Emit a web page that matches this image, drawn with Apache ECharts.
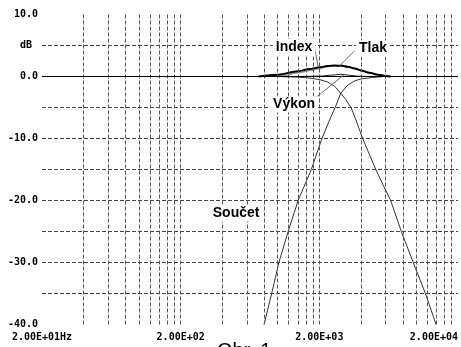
<!DOCTYPE html>
<html><head><meta charset="utf-8">
<script src="https://cdn.jsdelivr.net/npm/echarts@6/dist/echarts.min.js"></script>
<style>html,body{margin:0;padding:0;background:#fff}#c{width:461px;height:347px}</style>
</head><body><div id="c"></div>
<script>
// ---- data ----
const xTickValues = [20, 200, 2000, 20000];
const xTickLabels = ['2.00E+01Hz', '2.00E+02', '2.00E+03', '2.00E+04'];
const gridFreqs = [40,60,80,100,120,140,160,180,200,400,600,800,1000,1200,1400,1600,1800,2000,4000,6000,8000,10000,12000,14000,16000,18000];

const lpFreq = [20, 1000, 1400, 1700, 2010, 2300, 2584, 2856, 3100, 3384, 3700, 4104, 4600, 5110, 5800, 6540, 7806, 9512, 11648, 13896];
const lpDb   = [0, 0, -0.1, -0.25, -0.5, -0.9, -1.6, -2.7, -3.7, -5, -7.2, -10, -12.6, -15, -17.6, -20, -25, -30, -35, -40];

const hpFreq = [799, 906, 1022, 1192, 1406, 1750, 2088, 2350, 2600, 2856, 3200, 3600, 4000, 4800, 5900, 20000];
const hpDb   = [-40, -35, -30, -25, -20, -15, -10, -7.2, -5, -2.7, -1.4, -0.7, -0.4, -0.15, 0, 0];

const tlakFreq = [727, 1010, 1406, 1700, 2010, 2300, 2570, 2900, 3200, 3600, 3990, 4600, 5300, 6000, 6540];
const tlakDb   = [0, 0.3, 0.86, 1.2, 1.5, 1.68, 1.77, 1.72, 1.56, 1.3, 0.97, 0.6, 0.3, 0.1, 0];

const indexFreq = [800, 1100, 1406, 1700, 2010, 2300, 2570, 2900, 3200, 3600, 3990, 4600, 5300, 6000, 6540];
const indexDb   = [0, 0.15, 0.6, 0.95, 1.3, 1.6, 1.75, 1.72, 1.56, 1.3, 0.97, 0.6, 0.3, 0.1, 0];

const vykonFreq = [1500, 2000, 2400, 2856, 3300, 3800, 4500];
const vykonDb   = [0, 0.05, 0.2, 0.35, 0.2, 0.05, 0];

const pair = (xs, ys) => xs.map((x, i) => [x, ys[i]]);

const mono = '"DejaVu Sans Mono", "Liberation Mono", monospace';
const sans = '"Liberation Sans", Arial, sans-serif';
const annLabel = (txt) => ({
  show: true, formatter: txt, color: '#000', fontFamily: sans, fontWeight: 'bold', fontSize: 14,
  backgroundColor: '#fff', padding: [1, 3], position: 'inside'
});
const curve = { type: 'line', showSymbol: false, smooth: 0.35, smoothMonotone: 'x', z: 3 };
const straight = { type: 'line', showSymbol: false, smooth: false, z: 3 };

const option = {
  animation: false,
  backgroundColor: '#fff',
  title: {
    text: 'Obr. 1', left: 212, top: 336,
    textStyle: { fontFamily: sans, fontSize: 20, fontWeight: 'normal', color: '#000' }
  },
  grid: { left: 42, right: 0, top: 14.5, bottom: 22.5 },
  xAxis: {
    type: 'log', logBase: 10, min: 20, max: 20000,
    axisLine: { show: false }, axisTick: { show: false }, splitLine: { show: false },
    minorTick: { show: false }, minorSplitLine: { show: false },
    axisLabel: {
      customValues: xTickValues,
      margin: 8,
      alignMinLabel: 'center', alignMaxLabel: 'right',
      fontFamily: mono, fontSize: 10, fontWeight: 'bold', color: '#000',
      formatter: (v) => {
        const i = xTickValues.findIndex(t => Math.abs(t - v) / t < 1e-6);
        return i >= 0 ? xTickLabels[i] : '';
      }
    }
  },
  yAxis: {
    type: 'value', min: -40, max: 10, interval: 5,
    axisLine: { show: false }, axisTick: { show: false },
    splitLine: { show: true, showMinLine: false, showMaxLine: false,
      lineStyle: { color: '#444', type: [4, 2], width: 1 } },
    axisLabel: {
      margin: 4, fontFamily: mono, fontSize: 10, fontWeight: 'bold', color: '#000',
      formatter: (v) => v === 5 ? '{u|dB}' : (v % 10 === 0 ? v.toFixed(1) : ''),
      rich: { u: { fontFamily: mono, fontSize: 10, fontWeight: 'bold', color: '#000', padding: [0, 6, 0, 0] } }
    }
  },
  series: [
    {
      name: 'grid', type: 'line', data: [], silent: true,
      markLine: {
        silent: true, symbol: ['none', 'none'], label: { show: false },
        lineStyle: { color: '#555', type: [4, 2], width: 1 },
        data: gridFreqs.map(f => ({ xAxis: f }))
          .concat([{ yAxis: 0, lineStyle: { color: '#000', type: 'solid', width: 1 } }])
      }
    },
    Object.assign({}, straight, { name: 'Dolní propust', data: pair(lpFreq, lpDb), lineStyle: { color: '#333', width: 1 } }),
    Object.assign({}, straight, { name: 'Horní propust', data: pair(hpFreq, hpDb), lineStyle: { color: '#333', width: 1 } }),
    Object.assign({}, curve, { name: 'Výkon', data: pair(vykonFreq, vykonDb), lineStyle: { color: '#222', width: 1 } }),
    Object.assign({}, curve, { name: 'Index', data: pair(indexFreq, indexDb), lineStyle: { color: '#999', width: 1.5 } }),
    Object.assign({}, curve, {
      name: 'Tlak', data: pair(tlakFreq, tlakDb), lineStyle: { color: '#000', width: 2 },
      markLine: {
        silent: true, symbol: ['none', 'none'], label: { show: false },
        lineStyle: { color: '#666', type: 'solid', width: 1 },
        data: [
          [{ coord: [1852, 4.6] }, { coord: [1955, 1.7] }],
          [{ coord: [3578, 4.1] }, { coord: [2796, 1.7] }],
          [{ coord: [1750, -4.0] }, { coord: [3034, 0.35] }]
        ]
      },
      markPoint: {
        silent: true, symbol: 'rect', symbolSize: 1, itemStyle: { color: 'rgba(0,0,0,0)' },
        data: [
          { coord: [1316, 4.76], label: annLabel('Index') },
          { coord: [4880, 4.52], label: annLabel('Tlak') },
          { coord: [1316, -4.5], label: annLabel('Výkon') },
          { coord: [502, -22.1], label: annLabel('Součet') }
        ]
      }
    })
  ]
};
const chart = echarts.init(document.getElementById('c'), null, { renderer: 'canvas' });
chart.setOption(option);
</script></body></html>
